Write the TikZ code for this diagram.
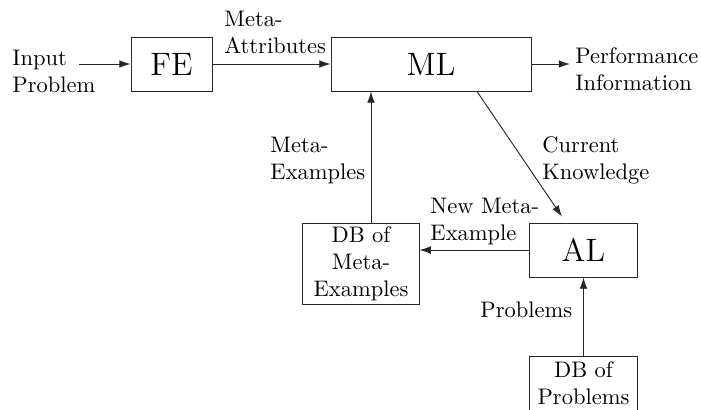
\documentclass[tikz,border=0pt]{standalone}
\usetikzlibrary{arrows.meta,calc}
\begin{document}
\begin{tikzpicture}[x=0.44444pt,y=-0.44444pt,
  blk/.style={draw=black!85,line width=0.42pt,inner sep=0pt,align=center},
  lbl/.style={anchor=north west,inner sep=0pt,align=left},
  arr/.style={draw=black!85,line width=0.42pt,-{Latex[length=5pt,width=3.4pt]}}]
\useasboundingbox (0,0) rectangle (701,409);
\begin{scope}
\clip (0,0) rectangle (701,409);
\node[blk,minimum width=36pt,minimum height=24pt,font=\Large] (FE) at (171.5,64) {FE};
\node[blk,minimum width=88.9pt,minimum height=24pt,font=\Large] (ML) at (431,64) {ML};
\node[blk,minimum width=47.6pt,minimum height=24pt,font=\Large] (AL) at (583.5,250) {AL};
\node[blk,minimum width=51.6pt,minimum height=36pt] (DBM) at (361,263.5) {DB of\\Meta-\\Examples};
\node[blk,minimum width=47.6pt,minimum height=24pt] (DBP) at (583.5,383) {DB of\\Problems};

\coordinate (inp) at (79,64);
\coordinate (perf) at (570,64);
\coordinate (mlk) at ($(ML.south)+(46,0)$);
\coordinate (alk) at ($(AL.north)+(-17.5,0)$);
\coordinate (dbu) at ($(DBM.north)+(10,0)$);

\draw[arr] (inp) -- (FE.west);
\draw[arr] (FE.east) -- (ML.west);
\draw[arr] (ML.east) -- (perf);
\draw[arr,shorten >=3.2pt] (mlk) -- (alk);
\draw[arr] (AL.west) -- (AL.west -| DBM.east);
\draw[arr] (dbu) -- (dbu |- ML.south);
\draw[arr] (DBP.north) -- (AL.south);

\node[lbl] (tin) at (12,50) {Input\\Problem};
\node[lbl] (tma) at (224,11) {Meta-\\Attributes};
\node[lbl] (tpi) at (575,47) {Performance\\Information};
\node[lbl] (tme) at (270,137) {Meta-\\Examples};
\node[lbl] (tck) at (542,136) {Current\\Knowledge};
\node[lbl] (tnm) at (430,198) {New Meta-\\Example};
\node[lbl] (tpr) at (480,301) {Problems};
\end{scope}
\end{tikzpicture}
\end{document}
